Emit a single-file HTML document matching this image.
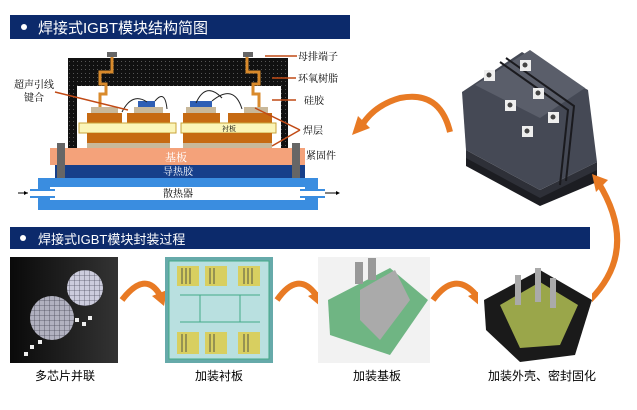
<!DOCTYPE html>
<html><head><meta charset="utf-8"><style>
body{margin:0;width:637px;height:410px;overflow:hidden;background:#fff;font-family:"Liberation Sans","Noto Sans CJK SC",sans-serif}
svg{display:block}
text{font-family:"Liberation Serif","Noto Serif CJK SC",serif}
.s{font-family:"Liberation Sans","Noto Sans CJK SC",sans-serif}
</style></head><body>
<svg width="637" height="410" viewBox="0 0 637 410" xmlns="http://www.w3.org/2000/svg">
<defs>
<pattern id="ep" width="4" height="4" patternUnits="userSpaceOnUse"><rect width="4" height="4" fill="#111"/><rect x="1" y="1" width="1" height="1" fill="#555"/></pattern>
<pattern id="gr" width="5" height="5" patternUnits="userSpaceOnUse"><rect width="5" height="5" fill="#ccd"/><path d="M0 0H5V5" fill="none" stroke="#556" stroke-width="0.8"/></pattern>
<linearGradient id="bg1" x1="0" x2="1"><stop offset="0" stop-color="#0a0a0a"/><stop offset="1" stop-color="#333"/></linearGradient>
</defs>
<!-- banner 1 -->
<rect x="10" y="15" width="340" height="24" fill="#0c2a6b"/>
<circle cx="24" cy="27" r="3" fill="#fff"/>
<text x="38" y="33" font-size="15" fill="#fff" class="s">焊接式IGBT模块结构简图</text>
<!-- epoxy case -->
<rect x="68" y="58" width="220" height="91" fill="url(#ep)"/>
<rect x="77" y="86" width="204" height="63" fill="#fff"/>
<!-- terminals -->
<path d="M112 56 v16 h-12 v12 h6 v10 h-6 v16" fill="none" stroke="#d98a2b" stroke-width="3"/>
<path d="M247 56 v16 h12 v12 h-6 v10 h6 v18" fill="none" stroke="#d98a2b" stroke-width="3"/>
<rect x="107" y="52" width="10" height="5" fill="#666"/><rect x="243" y="52" width="10" height="5" fill="#666"/>
<!-- left stack -->
<rect x="91" y="107" width="27" height="6" fill="#c8b89a"/>
<rect x="134" y="107" width="29" height="6" fill="#c8b89a"/>
<rect x="138" y="101" width="17" height="6" fill="#2f5fb5"/>
<rect x="87" y="113" width="35" height="11" fill="#c66a12"/>
<rect x="127" y="113" width="43" height="11" fill="#c66a12"/>
<rect x="79" y="123" width="97" height="10" fill="#fbf5b8" stroke="#c9a43a"/>
<rect x="87" y="133" width="83" height="10" fill="#c66a12"/>
<rect x="87" y="143" width="83" height="5" fill="#c8b89a"/>
<!-- right stack -->
<rect x="190" y="101" width="22" height="6" fill="#2f5fb5"/>
<rect x="186" y="107" width="30" height="6" fill="#c8b89a"/>
<rect x="244" y="107" width="24" height="6" fill="#c8b89a"/>
<rect x="183" y="113" width="37" height="11" fill="#c66a12"/>
<rect x="228" y="113" width="44" height="11" fill="#c66a12"/>
<rect x="181" y="123" width="95" height="10" fill="#fbf5b8" stroke="#c9a43a"/>
<text x="222" y="131" font-size="7">衬板</text>
<rect x="183" y="133" width="89" height="10" fill="#c66a12"/>
<rect x="183" y="143" width="89" height="5" fill="#c8b89a"/>
<!-- wires -->
<path d="M122 112 q10 -20 25 -10 M155 101 q10 -12 12 8 M196 103 q10 -22 26 -5 M212 101 q22 -18 30 8" fill="none" stroke="#222" stroke-width="1"/>
<!-- base -->
<rect x="50" y="148" width="255" height="17" fill="#f4a27a"/>
<text x="165" y="161" font-size="11" fill="#fff">基板</text>
<rect x="55" y="165" width="250" height="13" fill="#163f8a"/>
<text x="163" y="175" font-size="10" fill="#fff">导热胶</text>
<rect x="57" y="143" width="8" height="35" fill="#666"/><rect x="292" y="143" width="8" height="35" fill="#666"/>
<rect x="38" y="178" width="280" height="32" fill="#3a8de0"/>
<rect x="50" y="187" width="255" height="13" fill="#fff"/>
<rect x="30" y="189" width="25" height="9" fill="#3a8de0"/><rect x="30" y="191" width="25" height="5" fill="#fff"/>
<rect x="300" y="189" width="25" height="9" fill="#3a8de0"/><rect x="300" y="191" width="25" height="5" fill="#fff"/>
<text x="163" y="197" font-size="10">散热器</text>
<path d="M18 193 h10" stroke="#000"/><path d="M28 193 l-4 -2 v4z"/>
<path d="M325 193 h12" stroke="#000"/><path d="M340 193 l-4 -2 v4z"/>
<!-- leader lines -->
<g stroke="#c14a15" stroke-width="1.5" fill="none">
<path d="M265 56 h32"/><path d="M272 78 h24"/><path d="M272 100 h24"/>
<path d="M55 92 L128 110"/><path d="M255 108 L300 130 M272 146 L300 130"/>
</g>
<g font-size="10">
<text x="298" y="60">母排端子</text><text x="298" y="82">环氧树脂</text><text x="304" y="104">硅胶</text>
<text x="303" y="134">焊层</text><text x="306" y="159">紧固件</text>
<text x="14" y="88">超声引线</text><text x="24" y="101">键合</text>
</g>
<!-- top-right module -->
<g>
<path d="M466 150 L540 196 L597 168 L597 182 L540 206 L466 166Z" fill="#1c1d22"/>
<path d="M466 150 L540 190 L597 162 L597 170 L540 198 L466 158Z" fill="#2e3038"/>
<path d="M462 92 L522 52 L588 90 L597 162 L540 190 L466 150Z" fill="#454955"/>
<path d="M475 85 L530 50 L585 88 L540 118 Z" fill="#5a5e6a"/>
<path d="M500 62 L568 110 L560 185 M506 58 L574 106 L566 181" stroke="#1a1a1e" stroke-width="2" fill="none"/>
<g fill="#eee">
<rect x="484" y="70" width="11" height="11"/><rect x="520" y="60" width="11" height="11"/>
<rect x="505" y="100" width="11" height="11"/><rect x="533" y="88" width="11" height="11"/>
<rect x="522" y="126" width="11" height="11"/><rect x="548" y="112" width="11" height="11"/>
</g>
<g fill="#444"><circle cx="489" cy="75" r="2.5"/><circle cx="525" cy="65" r="2.5"/><circle cx="510" cy="105" r="2.5"/><circle cx="538" cy="93" r="2.5"/><circle cx="527" cy="131" r="2.5"/><circle cx="553" cy="117" r="2.5"/></g>
</g>
<!-- orange arcs -->
<g fill="none" stroke="#e87a24" stroke-width="6">
<path d="M450 132 Q440 90 400 98 Q375 105 362 125"/>
<path d="M590 300 Q640 250 598 182"/>
<path d="M122 300 Q145 270 160 295"/>
<path d="M277 300 Q298 270 316 295"/>
<path d="M433 300 Q455 270 476 295"/>
</g>
<g fill="#e87a24">
<path d="M352 135 L358 116 L370 128Z"/>
<path d="M592 174 L608 180 L596 192Z"/>
<path d="M164 306 L152 296 L167 290Z"/>
<path d="M320 306 L308 296 L323 290Z"/>
<path d="M480 306 L468 296 L483 290Z"/>
</g>
<!-- banner 2 -->
<rect x="10" y="227" width="580" height="22" fill="#0c2a6b"/>
<circle cx="23" cy="238" r="3" fill="#fff"/>
<text x="38" y="244" font-size="13" fill="#fff" class="s">焊接式IGBT模块封装过程</text>
<!-- photos -->
<rect x="10" y="257" width="108" height="106" fill="url(#bg1)"/>
<circle cx="52" cy="318" r="22" fill="url(#gr)" opacity="0.85"/><circle cx="85" cy="288" r="18" fill="url(#gr)"/>
<g fill="#eee"><rect x="75" y="318" width="4" height="4"/><rect x="82" y="322" width="4" height="4"/><rect x="88" y="316" width="4" height="4"/><rect x="30" y="345" width="4" height="4"/><rect x="38" y="340" width="4" height="4"/><rect x="24" y="352" width="4" height="4"/></g>
<rect x="165" y="257" width="108" height="106" fill="#6aa"/>
<rect x="169" y="261" width="100" height="98" fill="#b9e0e0" stroke="#4a8" />
<rect x="177" y="266" width="22" height="20" fill="#d8cf60"/><rect x="205" y="266" width="22" height="20" fill="#d8cf60"/><rect x="238" y="266" width="22" height="20" fill="#d8cf60"/>
<rect x="177" y="332" width="22" height="22" fill="#d8cf60"/><rect x="205" y="332" width="22" height="22" fill="#d8cf60"/><rect x="238" y="332" width="22" height="22" fill="#d8cf60"/>
<path d="M182 268 v16 M186 268 v16 M190 268 v16 M210 268 v16 M214 268 v16 M244 268 v16 M248 268 v16 M252 268 v16 M182 334 v18 M186 334 v18 M210 334 v18 M214 334 v18 M244 334 v18 M248 334 v18" stroke="#554" stroke-width="1"/>
<path d="M180 295 h80 M180 322 h80 M200 295 v27 M240 295 v27" stroke="#4a8" fill="none"/>
<rect x="318" y="257" width="112" height="106" fill="#f2f2f2"/>
<path d="M328 300 L390 268 L428 300 L390 355 L330 335Z" fill="#6fb583"/>
<path d="M360 290 L395 270 L410 300 L380 340 L360 320Z" fill="#aaa"/>
<rect x="355" y="262" width="8" height="22" fill="#999"/><rect x="368" y="258" width="8" height="22" fill="#999"/>
<rect x="478" y="257" width="114" height="106" fill="#fff"/>
<path d="M484 300 L540 270 L592 300 L575 355 L520 362 L486 330Z" fill="#1a1a1a"/>
<path d="M500 305 L540 282 L578 305 L560 345 L520 348Z" fill="#9aa64a"/>
<g fill="#aaa"><rect x="515" y="275" width="6" height="30"/><rect x="535" y="268" width="6" height="34"/><rect x="550" y="278" width="6" height="30"/></g>
<g font-size="12" class="s">
<text x="35" y="380" class="s">多芯片并联</text><text x="195" y="380" class="s">加装衬板</text>
<text x="353" y="380" class="s">加装基板</text><text x="488" y="380" class="s">加装外壳、密封固化</text>
</g>
</svg>
</body></html>
